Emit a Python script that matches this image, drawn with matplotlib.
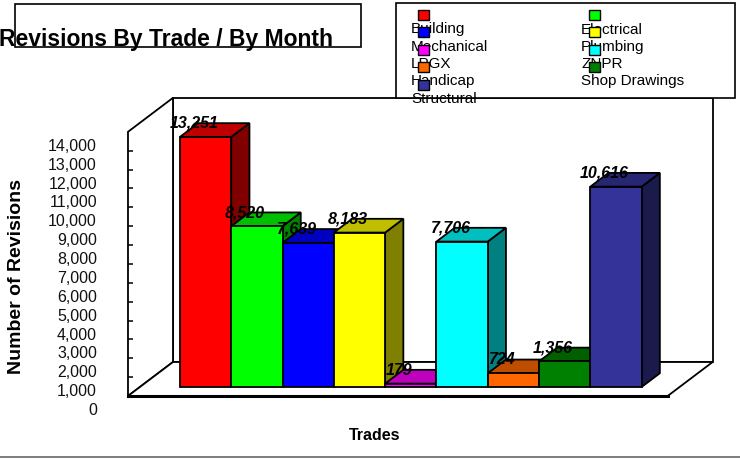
import matplotlib
matplotlib.use('Agg')

import numpy as np
import matplotlib.pyplot as plt
from matplotlib import colors as mcolors
from matplotlib import markers
from matplotlib.patches import Polygon, Rectangle
from matplotlib.lines import Line2D

trades = ["Building", "Electrical", "Mechanical", "Plumbing", "LPGX",
          "ZNPR", "Handicap", "Shop Drawings", "Structural"]
revisions = [13251, 8520, 7639, 8183, 179, 7706, 724, 1356, 10616]
bar_colors = ["#ff0000", "#00ff00", "#0000ff", "#ffff00", "#ff00ff",
              "#00ffff", "#ff6600", "#008000", "#333399"]
yticks = list(range(0, 15000, 1000))

plt.rcParams['font.family'] = ['Liberation Sans', 'DejaVu Sans']

W, H = 740, 460
fig = plt.figure(figsize=(W / 100, H / 100), dpi=100)

def fx(px):
    return px / W

def fy(py):
    return 1 - py / H

# one axes over the whole figure: x in bar widths, y in revisions
bar_px = 51.3
per_val = 18.87 / 1000
x_org, y_org = 168, 397
ax = fig.add_axes([0, 0, 1, 1])
ax.set_xlim(-x_org / bar_px, (W - x_org) / bar_px)
ax.set_ylim((y_org - H) / per_val, y_org / per_val)
ax.axis('off')

# oblique depth direction
DX, DZ = 45 / bar_px, 34 / per_val

def proj(x, z, d):
    return (x + d * DX, z + d * DZ)

xl, xr = -0.78, 9.74
zmax = yticks[-1]
lw = 1.3

floor = [proj(xl, 0, 0), proj(xr, 0, 0), proj(xr, 0, 1), proj(xl, 0, 1)]
left_wall = [proj(xl, 0, 0), proj(xl, zmax, 0), proj(xl, zmax, 1), proj(xl, 0, 1)]
back_wall = [proj(xl, 0, 1), proj(xl, zmax, 1), proj(xr, zmax, 1), proj(xr, 0, 1)]
for poly in (back_wall, left_wall, floor):
    ax.add_patch(Polygon(poly, closed=True, facecolor='white',
                         edgecolor='black', lw=lw, zorder=1))
ax.plot([floor[0][0], floor[1][0]], [floor[0][1], floor[1][1]],
        color='black', lw=2.2, zorder=1.5)

# ticks on the front edge of the side wall
ax.plot([xl] * (len(yticks) - 2), yticks[1:-1], ls='none',
        marker=markers.TICKRIGHT, ms=3.5, mew=1.1, color='black', zorder=2)
for t in yticks:
    ax.annotate(f"{t:,}", proj(xl, t, 0), xytext=(-31 * 0.72, -18 * 0.72),
                textcoords='offset points', ha='right', va='baseline',
                fontsize=11.5, color='#111111', zorder=3)

# bars
d0, d1 = 0.265, 0.67
for i, (v, c) in enumerate(zip(revisions, bar_colors)):
    rgb = np.array(mcolors.to_rgb(c))
    front = [proj(i, 0, d0), proj(i, v, d0), proj(i + 1, v, d0), proj(i + 1, 0, d0)]
    top = [proj(i, v, d0), proj(i, v, d1), proj(i + 1, v, d1), proj(i + 1, v, d0)]
    side = [proj(i + 1, 0, d0), proj(i + 1, v, d0), proj(i + 1, v, d1), proj(i + 1, 0, d1)]
    z = 4 + i
    ax.add_patch(Polygon(side, closed=True, facecolor=rgb * 0.5,
                         edgecolor='black', lw=lw, zorder=z))
    ax.add_patch(Polygon(top, closed=True, facecolor=rgb * 0.75,
                         edgecolor='black', lw=lw, zorder=z))
    ax.add_patch(Polygon(front, closed=True, facecolor=rgb,
                         edgecolor='black', lw=lw, zorder=z))

for i, v in enumerate(revisions):
    ax.annotate(f"{v:,}", proj(i, v, d0), xytext=(14 * 0.72, 10 * 0.72),
                textcoords='offset points', ha='center', va='baseline',
                fontsize=11.5, fontweight='bold', fontstyle='italic',
                color='black', zorder=20)

# title and its box
fig.patches.append(Rectangle((fx(15), fy(48)), fx(361 - 15), (48 - 5) / H,
                             transform=fig.transFigure, facecolor='none',
                             edgecolor='black', lw=1.2, zorder=30))
fig.text(fx(-1), fy(46), "Revisions By Trade / By Month", ha='left',
         va='baseline', fontsize=16.5, fontweight='bold', color='black', zorder=31)

fig.text(fx(17), fy(277), "Number of Revisions", rotation=90, ha='center',
         va='center', fontsize=14, fontweight='bold', color='black')
fig.text(fx(375), fy(436), "Trades", ha='center', va='center',
         fontsize=11.5, fontweight='bold', color='black')

# legend
fig.patches.append(Rectangle((fx(396), fy(99)), fx(735 - 396), (99 - 4) / H,
                             transform=fig.transFigure, facecolor='white',
                             edgecolor='black', lw=1.2, zorder=30))
for k, (name, c) in enumerate(zip(trades, bar_colors)):
    row, col = divmod(k, 2)
    sx = [423.5, 594][col]
    sy = 16 + 17.4 * row
    tx = [411, 581][col]
    ty = 33.5 + 17.3 * row
    fig.text(fx(tx), fy(ty), name, ha='left', va='baseline', fontsize=11,
             color='black', zorder=31)
    fig.patches.append(Rectangle((fx(sx - 5.5), fy(sy + 5)), fx(11), 10 / H,
                                 transform=fig.transFigure, facecolor=c,
                                 edgecolor='black', lw=1.0, zorder=32))

fig.lines.append(Line2D([0, 1], [fy(458), fy(458)], transform=fig.transFigure,
                        color='#666666', lw=1.2))

fig.savefig("out.png", dpi=100)
